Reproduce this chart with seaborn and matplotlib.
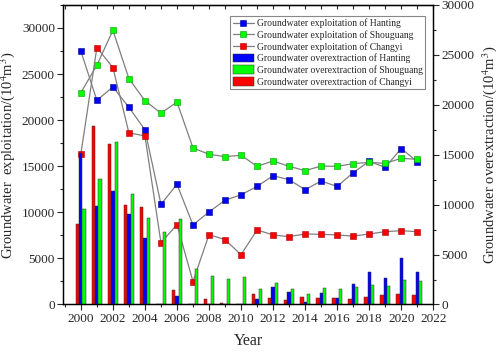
import numpy as np
import pandas as pd
import matplotlib
matplotlib.use("Agg")
import matplotlib.pyplot as plt
from matplotlib.lines import Line2D
from matplotlib.patches import Patch
from matplotlib.ticker import MultipleLocator
import seaborn as sns

years = list(range(2000, 2022))

# Groundwater exploitation (left axis, 10^4 m^3)
expl_hanting = [27490, 22150, 23600, 21390, 18950, 10880, 13030, 8630, 10050, 11310, 11900,
                12810, 13970, 13540, 12450, 13390, 12810, 14300, 15530, 14880, 16920, 15500]
expl_shouguang = [22980, 25960, 29740, 24500, 22110, 20760, 21960, 16980, 16300, 16040, 16190,
                  14990, 15570, 14990, 14520, 15020, 14990, 15280, 15420, 15310, 15860, 15750]
expl_changyi = [16330, 27880, 25700, 18620, 18290, 6700, 8670, 2490, 7580, 7030, 5400,
                8090, 7540, 7360, 7650, 7610, 7550, 7410, 7650, 7900, 8010, 7900]

# Groundwater overextraction (right axis, 10^4 m^3)
over_hanting = [15190, 9890, 11330, 9080, 6670, 0, 800, 0, 0, 0, 0,
                560, 1710, 1270, 200, 1140, 600, 2040, 3280, 2680, 4630, 3250]
over_shouguang = [9550, 12570, 16290, 11060, 8650, 7300, 8550, 3520, 2850, 2540, 2720,
                  1510, 2140, 1540, 1040, 1640, 1510, 1770, 1940, 1870, 2410, 2310]
over_changyi = [8080, 17900, 16050, 9990, 9750, 0, 1470, 0, 560, 130, 0,
                1040, 600, 430, 700, 630, 600, 500, 700, 940, 1010, 940]

regions = ["Hanting", "Shouguang", "Changyi"]
colors = {"Hanting": "#0000FF", "Shouguang": "#00FF00", "Changyi": "#FF0000"}
edge = {"Hanting": "#00008B", "Shouguang": "#00A000", "Changyi": "#B00000"}

sns.set_style("ticks")
plt.rcParams["font.family"] = ["Liberation Serif", "DejaVu Serif"]
plt.rcParams["mathtext.fontset"] = "stix"

fig = plt.figure(figsize=(4.98, 3.52), dpi=100)
ax = fig.add_axes([0.127, 0.135, 0.743, 0.851])
ax2 = ax.twinx()

expl = {"Hanting": expl_hanting, "Shouguang": expl_shouguang, "Changyi": expl_changyi}
for r in regions:
    sns.lineplot(x=years, y=expl[r], ax=ax, color="#7f7f7f", lw=0.9,
                 marker="s", markersize=4.6, markerfacecolor=colors[r],
                 markeredgecolor=edge[r], markeredgewidth=0.4)

over_df = pd.DataFrame({
    "Year": years * 3,
    "value": over_changyi + over_hanting + over_shouguang,
    "region": ["Changyi"] * len(years) + ["Hanting"] * len(years) + ["Shouguang"] * len(years),
})
sns.barplot(data=over_df, x="Year", y="value", hue="region",
            hue_order=["Changyi", "Hanting", "Shouguang"], palette=colors,
            native_scale=True, width=0.6, gap=0, dodge=True, legend=False,
            edgecolor="#333333", linewidth=0.35, ax=ax2, saturation=1)

ax.set_xlim(1998.9, 2022)
ax.set_ylim(0, 32500)
ax2.set_ylim(0, 30000)
ax.xaxis.set_major_locator(MultipleLocator(2))
ax.xaxis.set_minor_locator(MultipleLocator(1))
ax.yaxis.set_major_locator(MultipleLocator(5000))
ax.yaxis.set_minor_locator(MultipleLocator(2500))
ax2.yaxis.set_major_locator(MultipleLocator(5000))
ax2.yaxis.set_minor_locator(MultipleLocator(2500))

for a in (ax, ax2):
    a.tick_params(which="major", direction="out", length=4, width=0.8, labelsize=9.5, pad=2)
    a.tick_params(which="minor", direction="out", length=2.5, width=0.8)
    for s in a.spines.values():
        s.set_visible(True)
        s.set_color("black")
        s.set_linewidth(0.9)

sec = ax.secondary_xaxis("top")
sec.xaxis.set_major_locator(MultipleLocator(1))
sec.tick_params(direction="in", length=3, width=0.8, labeltop=False)
sec.set_xticklabels([])

ax.set_xlabel("Year", fontsize=11.5, labelpad=6)
ax.set_ylabel(r"Groundwater  exploitation/(10$^4$m$^3$)", fontsize=10.5, labelpad=3)
ax2.set_ylabel(r"Groundwater overextraction/(10$^4$m$^3$)", fontsize=10.5, labelpad=4)
ax2.set_xlabel("")

handles = []
labels = []
for r in regions:
    handles.append(Line2D([], [], color="#7f7f7f", lw=0.9, marker="s", markersize=4.4,
                          markerfacecolor=colors[r], markeredgecolor=edge[r], markeredgewidth=0.4))
    labels.append(f"Groundwater exploitation of {r}")
for r in regions:
    handles.append(Patch(facecolor=colors[r], edgecolor="#333333", linewidth=0.35))
    labels.append(f"Groundwater overextraction of {r}")
leg = ax2.legend(handles, labels, loc="upper right", bbox_to_anchor=(0.978, 0.962),
                 fontsize=6.9, frameon=True, fancybox=False, edgecolor="#888888",
                 framealpha=1, handlelength=2.2, handleheight=1.0, labelspacing=0.2,
                 borderpad=0.25, handletextpad=0.3, borderaxespad=0.0)
leg.get_frame().set_linewidth(0.8)

fig.savefig("out.png", dpi=100)
